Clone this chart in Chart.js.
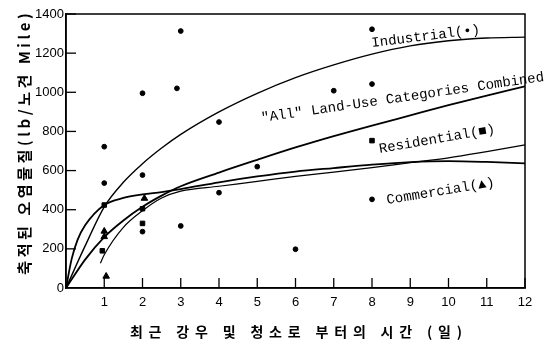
<!DOCTYPE html>
<html>
<head>
<meta charset="utf-8">
<script src="https://cdn.jsdelivr.net/npm/chart.js@4.4.0/dist/chart.umd.min.js"></script>
<style>
html,body{margin:0;padding:0;background:#fff;}
#wrap{width:548px;height:355px;}
</style>
</head>
<body>
<div id="wrap"><canvas id="c" width="548" height="355"></canvas></div>
<script>
// ---- Data ----
const xTicks = [0,1,2,3,4,5,6,7,8,9,10,11,12];
const yTicks = [0,200,400,600,800,1000,1200,1400];

// Fitted curves (days, lb / curb-mile)
const industrialCurveX = [0, 0.5, 1, 1.5, 2, 2.5, 3, 4, 5, 6, 7, 8, 9, 10, 11, 12];
const industrialCurveY = [0, 215, 415, 540, 635, 715, 785, 900, 995, 1075, 1140, 1195, 1237, 1263, 1277, 1282];

const allCurveX = [0, 0.5, 1, 1.5, 2, 2.5, 3, 4, 5, 6, 7, 8, 9, 10, 11, 12];
const allCurveY = [0, 145, 260, 345, 415, 472, 520, 590, 655, 718, 776, 830, 882, 934, 983, 1030];

const residentialCurveX = [0.9, 1, 1.5, 2, 2.5, 3, 4, 5, 6, 7, 8, 9, 10, 11, 12];
const residentialCurveY = [127, 170, 310, 395, 460, 495, 520, 545, 570, 592, 615, 640, 665, 697, 731];

const commercialCurveX = [0, 0.15, 0.3, 0.5, 1, 1.5, 2, 2.5, 3, 4, 5, 6, 7, 8, 9, 10, 11, 12];
const commercialCurveY = [0, 150, 245, 320, 424, 460, 478, 490, 505, 540, 570, 595, 613, 630, 643, 648, 644, 637];

// Observed points
const industrialPtsX = [1, 1, 2, 2, 2, 2.9, 3, 3, 4, 4, 5, 6, 7, 8, 8, 8];
const industrialPtsY = [722, 536, 995, 577, 288, 1020, 1313, 317, 848, 487, 620, 198, 1008, 1322, 1042, 453];

const residentialPtsX = [1, 0.95, 2, 2, 8];
const residentialPtsY = [424, 190, 405, 330, 753];

const commercialPtsX = [1, 1, 1.05, 2.05];
const commercialPtsY = [290, 262, 60, 458];

// Labels
const xTitle = "최근 강우 및 청소로 부터의 시간 (일)";
const yTitle = "축적된 오염물질(lb/노견 Mile)";
const curveLabels = [
  "Industrial(•)",
  "\"All\" Land-Use Categories Combined",
  "Residential(■)",
  "Commercial(▲)"
];

// ---- Presentation ----
const labelAnchors = [
  {x: 8.0, y: 1231, angle: -7.2},
  {x: 5.12, y: 848, angle: -8.3},
  {x: 8.2, y: 690, angle: -9.8},
  {x: 8.4, y: 429, angle: -9.4}
];

function pairs(xs, ys){ return xs.map((x,i)=>({x:x, y:ys[i]})); }

const lineDs = (label, xs, ys, w) => ({
  type: 'line', label, data: pairs(xs, ys),
  borderColor: '#000', borderWidth: w, pointRadius: 0,
  fill: false, cubicInterpolationMode: 'monotone', order: 2
});
const ptDs = (label, xs, ys, style, r) => ({
  type: 'scatter', label, data: pairs(xs, ys),
  pointStyle: style, pointRadius: r, pointHoverRadius: r,
  backgroundColor: '#000', borderColor: '#000', borderWidth: 1, showLine: false, order: 1
});

const decor = {
  id: 'decor',
  afterDatasetsDraw(chart){
    const ctx = chart.ctx, a = chart.chartArea;
    const xs = chart.scales.x, ys = chart.scales.y;
    ctx.save();
    ctx.strokeStyle = '#000';
    ctx.lineWidth = 1.5;
    // frame
    ctx.strokeRect(a.left, a.top, a.right - a.left, a.bottom - a.top);
    // inward ticks
    ctx.lineWidth = 1.3;
    yTicks.forEach(v => {
      if (v === 0) return;
      const y = ys.getPixelForValue(v);
      ctx.beginPath(); ctx.moveTo(a.left, y); ctx.lineTo(a.left + 10, y); ctx.stroke();
    });
    xTicks.forEach(v => {
      if (v === 0) return;
      const x = xs.getPixelForValue(v);
      ctx.beginPath(); ctx.moveTo(x, a.bottom); ctx.lineTo(x, a.bottom - 10); ctx.stroke();
    });
    // curve labels
    ctx.fillStyle = '#000';
    ctx.font = '14px "Liberation Mono", "DejaVu Sans Mono", monospace';
    ctx.textBaseline = 'alphabetic';
    ctx.textAlign = 'left';
    curveLabels.forEach((t, i) => {
      const an = labelAnchors[i];
      ctx.save();
      ctx.translate(xs.getPixelForValue(an.x), ys.getPixelForValue(an.y));
      ctx.rotate(an.angle * Math.PI / 180);
      ctx.fillText(t, 0, 0);
      ctx.restore();
    });
    // axis titles
    const fitText = (text, cx, cy, target, rot, font) => {
      ctx.save();
      ctx.font = font;
      ctx.letterSpacing = '0px';
      const w = ctx.measureText(text).width;
      const n = Array.from(text).length;
      const sp = Math.max(0, (target - w) / n);
      ctx.letterSpacing = sp + 'px';
      ctx.translate(cx, cy);
      ctx.rotate(rot);
      ctx.textAlign = 'center';
      ctx.textBaseline = 'middle';
      ctx.fillText(text, sp / 2, 0);
      ctx.restore();
    };
    fitText(xTitle, 296, 332, 338, 0, 'bold 14px "Noto Sans CJK KR", sans-serif');
    fitText(yTitle, 24, 144, 265, -Math.PI / 2, 'bold 15px "Noto Sans CJK KR", sans-serif');
    ctx.restore();
  }
};

new Chart(document.getElementById('c'), {
  data: {
    datasets: [
      lineDs('Industrial curve', industrialCurveX, industrialCurveY, 1.4),
      lineDs('All curve', allCurveX, allCurveY, 1.8),
      lineDs('Residential curve', residentialCurveX, residentialCurveY, 1.2),
      lineDs('Commercial curve', commercialCurveX, commercialCurveY, 1.8),
      ptDs('Industrial', industrialPtsX, industrialPtsY, 'circle', 2.4),
      ptDs('Residential', residentialPtsX, residentialPtsY, 'rect', 3.2),
      ptDs('Commercial', commercialPtsX, commercialPtsY, 'triangle', 3.8)
    ]
  },
  options: {
    responsive: false,
    animation: false,
    devicePixelRatio: 1,
    layout: { padding: { top: 14, right: 23, left: 0, bottom: 0 } },
    plugins: { legend: { display: false }, tooltip: { enabled: false }, title: { display: false } },
    scales: {
      x: {
        type: 'linear', min: 0, max: 12,
        afterFit(s){ s.height = 67; },
        afterBuildTicks(s){ s.ticks = xTicks.map(v => ({value: v})); },
        grid: { display: false, drawTicks: false },
        border: { display: true, color: '#000', width: 1.5 },
        ticks: {
          padding: 7, color: '#000',
          font: { family: '"Liberation Sans", Arial, sans-serif', size: 13 },
          callback: v => v === 0 ? '' : String(v)
        }
      },
      y: {
        type: 'linear', min: 0, max: 1400,
        afterFit(s){ s.width = 66; },
        afterBuildTicks(s){ s.ticks = yTicks.map(v => ({value: v})); },
        grid: { display: false, drawTicks: false },
        border: { display: true, color: '#000', width: 1.5 },
        ticks: {
          padding: 2, color: '#000',
          font: { family: '"Liberation Sans", Arial, sans-serif', size: 13 },
          callback: v => String(v)
        }
      }
    }
  },
  plugins: [decor]
});
</script>
</body>
</html>
